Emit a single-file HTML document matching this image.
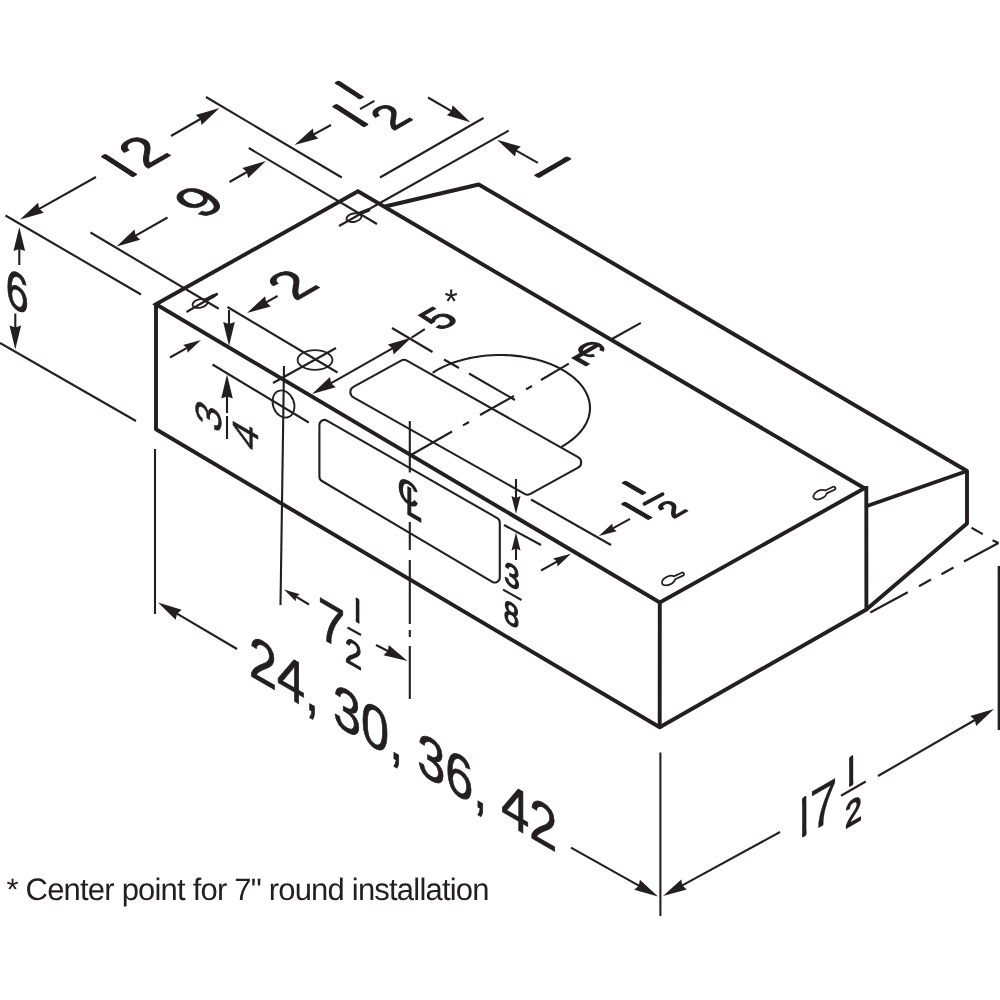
<!DOCTYPE html>
<html><head><meta charset="utf-8"><title>Range hood dimensions</title>
<style>html,body{margin:0;padding:0;background:#fff}svg{display:block;will-change:transform;text-rendering:geometricPrecision}</style></head>
<body><svg width="1000" height="1000" viewBox="0 0 1000 1000" fill="none" stroke="#231f20" stroke-linecap="butt" stroke-linejoin="round">
<rect width="1000" height="1000" fill="#fff" stroke="none"/>
<path d="M156 304.2 L358 191.3 L864.5 488.3 L659.8 602.5 Z" stroke-width="3.9" stroke-linejoin="miter"/>
<path d="M156 304.2 L156 429.3 L659.7 727.2 L659.8 602.5" stroke-width="3.9" />
<path d="M659.7 727.2 L866.4 609.5 L866.3 486" stroke-width="3.9" />
<path d="M385 206.5 L478.75 184.5 L967 471 L967 523.5 L866.4 609.5" stroke-width="3.9" />
<line x1="967" y1="471" x2="867" y2="506" stroke-width="3.9" />
<line x1="999.6" y1="566" x2="999.6" y2="730" stroke-width="3.9" />
<line x1="971.5" y1="527.75" x2="982.75" y2="534.2" stroke-width="2.1" />
<line x1="992.5" y1="540.2" x2="998.5" y2="543" stroke-width="2.1" />
<line x1="998.5" y1="543" x2="964" y2="561.5" stroke-width="2.1" />
<line x1="953.5" y1="567.5" x2="941.5" y2="574.25" stroke-width="2.1" />
<line x1="931" y1="579.5" x2="919" y2="586.25" stroke-width="2.1" />
<line x1="907.75" y1="592.25" x2="870.25" y2="612.5" stroke-width="2.1" />
<line x1="5.5" y1="215.5" x2="141" y2="294.5" stroke-width="2.1" />
<line x1="0" y1="343" x2="136" y2="421" stroke-width="2.1" />
<line x1="206" y1="97" x2="341.75" y2="177.5" stroke-width="2.1" />
<line x1="90.5" y1="232.5" x2="218.75" y2="308.75" stroke-width="2.1" />
<line x1="248.75" y1="148" x2="377" y2="224" stroke-width="2.1" />
<line x1="380" y1="177.5" x2="483.5" y2="118" stroke-width="2.1" />
<line x1="339" y1="226" x2="508.7" y2="130.7" stroke-width="2.1" />
<ellipse cx="200" cy="303.5" rx="7.6" ry="4.2" transform="rotate(-12 200 303.5)" stroke-width="1.9"/>
<line x1="205" y1="300.3" x2="214" y2="295.6" stroke-width="3.6" stroke-linecap="round"/>
<circle cx="216.6" cy="294.1" r="1.4" fill="#231f20" stroke="none"/>
<line x1="186.5" y1="312" x2="217.5" y2="294" stroke-width="2.1" />
<ellipse cx="354" cy="217.6" rx="7.6" ry="4.2" transform="rotate(-12 354 217.6)" stroke-width="1.9"/>
<line x1="360" y1="213.2" x2="368.5" y2="210" stroke-width="3.6" stroke-linecap="round"/>
<line x1="227.5" y1="307" x2="337.5" y2="372.5" stroke-width="2.1" />
<ellipse cx="315" cy="360" rx="17.4" ry="9.9" stroke-width="1.8"/>
<line x1="273" y1="383" x2="336" y2="348" stroke-width="2.1" />
<polygon points="229.0,346.0 223.2,322.0 229.0,324.0 234.8,322.0" fill="#231f20" stroke="none"/>
<line x1="229" y1="310" x2="229.0" y2="325.0" stroke-width="2.1" />
<polygon points="201.0,340.0 187.5,352.8 187.1,347.9 183.1,344.9" fill="#231f20" stroke="none"/>
<line x1="170" y1="357.5" x2="187.9" y2="347.4" stroke-width="2.1" />
<polygon points="247.0,313.0 265.1,296.2 266.2,302.3 270.8,306.4" fill="#231f20" stroke="none"/>
<line x1="277.5" y1="296" x2="265.3" y2="302.8" stroke-width="2.1" />
<line x1="212.5" y1="364.5" x2="308.75" y2="422.5" stroke-width="2.1" />
<ellipse cx="283.5" cy="404" rx="10.5" ry="14" transform="rotate(-20 283.5 404)" stroke-width="1.8"/>
<line x1="284" y1="366" x2="280.5" y2="605" stroke-width="2.1" />
<polygon points="227.0,374.5 232.8,398.5 227.0,396.5 221.2,398.5" fill="#231f20" stroke="none"/>
<line x1="227" y1="413" x2="227.0" y2="395.5" stroke-width="2.1" />
<line x1="227" y1="416" x2="227" y2="439" stroke-width="2.1" />
<line x1="155" y1="449" x2="155" y2="614" stroke-width="2.1" />
<line x1="660.4" y1="752.5" x2="660.4" y2="916" stroke-width="2.1" />
<polygon points="20.0,219.5 38.1,202.7 39.2,208.8 43.8,212.8" fill="#231f20" stroke="none"/>
<line x1="96" y1="177" x2="38.3" y2="209.3" stroke-width="2.1" />
<polygon points="219.5,108.0 201.6,125.0 200.4,119.0 195.8,115.0" fill="#231f20" stroke="none"/>
<line x1="171" y1="136" x2="201.3" y2="118.5" stroke-width="2.1" />
<polygon points="116.5,246.5 134.5,229.6 135.6,235.6 140.2,239.7" fill="#231f20" stroke="none"/>
<line x1="167.5" y1="217.5" x2="134.8" y2="236.1" stroke-width="2.1" />
<polygon points="266.0,161.0 248.1,178.0 246.9,172.0 242.3,167.9" fill="#231f20" stroke="none"/>
<line x1="229.5" y1="182" x2="247.8" y2="171.5" stroke-width="2.1" />
<polygon points="294.5,145.0 312.8,128.4 313.8,134.4 318.3,138.6" fill="#231f20" stroke="none"/>
<line x1="331" y1="125" x2="312.9" y2="134.9" stroke-width="2.1" />
<polygon points="470.4,122.3 446.8,115.2 451.4,111.2 452.6,105.2" fill="#231f20" stroke="none"/>
<line x1="428" y1="97.5" x2="452.3" y2="111.7" stroke-width="2.1" />
<polygon points="497.0,139.8 520.8,146.5 516.2,150.6 515.1,156.6" fill="#231f20" stroke="none"/>
<line x1="537.9" y1="162.8" x2="515.3" y2="150.1" stroke-width="2.1" />
<polygon points="19.3,227.0 25.1,251.0 19.3,249.0 13.5,251.0" fill="#231f20" stroke="none"/>
<line x1="19.3" y1="265" x2="19.3" y2="248.0" stroke-width="2.1" />
<polygon points="15.3,349.5 9.5,325.5 15.3,327.5 21.1,325.5" fill="#231f20" stroke="none"/>
<line x1="15.3" y1="313.5" x2="15.3" y2="328.5" stroke-width="2.1" />
<polygon points="158.0,602.5 181.6,609.7 177.0,613.7 175.7,619.7" fill="#231f20" stroke="none"/>
<line x1="237" y1="649" x2="176.1" y2="613.2" stroke-width="2.1" />
<polygon points="658.0,896.5 634.2,889.8 638.8,885.7 639.9,879.7" fill="#231f20" stroke="none"/>
<line x1="571" y1="847.6" x2="639.7" y2="886.2" stroke-width="2.1" />
<polygon points="284.0,589.5 299.8,594.3 296.0,596.7 295.7,601.2" fill="#231f20" stroke="none"/>
<line x1="309" y1="604.5" x2="295.1" y2="596.2" stroke-width="2.1" />
<polygon points="407.5,661.0 383.5,655.3 387.9,651.0 388.7,645.0" fill="#231f20" stroke="none"/>
<line x1="376" y1="645" x2="388.8" y2="651.5" stroke-width="2.1" />
<polygon points="663.0,896.0 681.3,879.4 682.3,885.4 686.8,889.6" fill="#231f20" stroke="none"/>
<line x1="780" y1="832" x2="681.4" y2="885.9" stroke-width="2.1" />
<polygon points="994.0,709.0 976.1,726.0 974.9,720.0 970.3,716.0" fill="#231f20" stroke="none"/>
<line x1="878" y1="776" x2="975.8" y2="719.5" stroke-width="2.1" />
<line x1="409.8" y1="421" x2="409.8" y2="472.5" stroke-width="2.1" />
<line x1="409.8" y1="522" x2="409.8" y2="550" stroke-width="2.1" />
<line x1="409.8" y1="560" x2="409.8" y2="624" stroke-width="2.1" />
<line x1="409.8" y1="630" x2="409.8" y2="637" stroke-width="2.1" />
<line x1="409.8" y1="646" x2="409.8" y2="699" stroke-width="2.1" />
<path d="M353.4 397.3 A6 6 0 0 1 353.4 386.8 L401.1 360.6 A6 6 0 0 1 406.9 360.6 L578.1 457.2 A6 6 0 0 1 578.1 467.7 L530.4 493.9 A6 6 0 0 1 524.6 493.9 Z" stroke-width="2.1"/>
<path d="M319.4 424.9 A5 5 0 0 1 326.9 420.6 L497.3 518.1 A5 5 0 0 1 499.8 522.4 L499.8 577.5 A5 5 0 0 1 492.3 581.8 L321.9 481.0 A5 5 0 0 1 319.4 476.6 Z" stroke-width="2.1"/>
<path d="M432.7 372.8 L436.0 370.7 L439.5 368.7 L443.2 366.9 L447.0 365.1 L451.0 363.5 L455.2 362.0 L459.5 360.7 L463.9 359.5 L468.3 358.4 L472.9 357.5 L477.6 356.7 L482.3 356.0 L487.1 355.5 L491.9 355.2 L496.8 355.0 L501.6 355.0 L506.5 355.1 L511.3 355.4 L516.1 355.9 L520.9 356.4 L525.5 357.2 L530.2 358.1 L534.7 359.1 L539.1 360.3 L543.4 361.6 L547.6 363.0 L551.7 364.6 L555.6 366.3 L559.3 368.1 L562.9 370.1 L566.2 372.1 L569.4 374.3 L572.4 376.5 L575.2 378.9 L577.7 381.3 L580.1 383.8 L582.2 386.4 L584.0 389.0 L585.6 391.7 L587.0 394.5 L588.1 397.2 L589.0 400.1 L589.6 402.9 L589.9 405.7 L590.0 408.6 L589.8 411.5 L589.4 414.3 L588.7 417.1 L587.7 419.9 L586.5 422.7 L585.0 425.4 L583.3 428.1 L581.3 430.7 L579.1 433.3 L576.7 435.7 L574.0 438.1 L571.2 440.4 L568.1 442.6 L564.8 444.8 L561.4 446.8" stroke-width="2.1" />
<line x1="392" y1="328" x2="432.5" y2="352" stroke-width="2.1" />
<line x1="444" y1="359.5" x2="459" y2="368" stroke-width="2.1" />
<line x1="469" y1="373.5" x2="515" y2="400" stroke-width="2.1" />
<polygon points="411.6,337.6 393.6,354.5 392.5,348.4 387.9,344.4" fill="#231f20" stroke="none"/>
<polygon points="312.0,394.0 330.0,377.1 331.1,383.2 335.7,387.2" fill="#231f20" stroke="none"/>
<line x1="330.3" y1="383.7" x2="393.3" y2="347.9" stroke-width="2.1" />
<line x1="411.6" y1="337.6" x2="424.8" y2="329.2" stroke-width="2.1" />
<line x1="640.8" y1="322.8" x2="612" y2="339" stroke-width="2.1" />
<line x1="568.8" y1="363.6" x2="541" y2="380" stroke-width="2.1" />
<line x1="532" y1="386" x2="526" y2="389.4" stroke-width="2.1" />
<line x1="514" y1="396" x2="480" y2="415" stroke-width="2.1" />
<line x1="469" y1="422" x2="463" y2="425.3" stroke-width="2.1" />
<line x1="452" y1="431.5" x2="411" y2="455" stroke-width="2.1" />
<polygon points="516.0,514.0 511.5,496.0 516.0,498.0 520.5,496.0" fill="#231f20" stroke="none"/>
<line x1="516" y1="479" x2="516.0" y2="499.0" stroke-width="2.1" />
<polygon points="516.0,532.5 520.5,550.5 516.0,548.5 511.5,550.5" fill="#231f20" stroke="none"/>
<line x1="516" y1="560" x2="516.0" y2="547.5" stroke-width="2.1" />
<line x1="504" y1="525" x2="541" y2="545" stroke-width="2.1" />
<line x1="503" y1="589.6" x2="521.5" y2="600" stroke-width="2.1" />
<line x1="531" y1="499.5" x2="611" y2="545" stroke-width="2.1" />
<polygon points="598.8,536.0 612.3,523.4 612.8,528.3 616.7,531.2" fill="#231f20" stroke="none"/>
<line x1="630" y1="518.8" x2="611.9" y2="528.8" stroke-width="2.1" />
<polygon points="571.0,553.8 557.5,566.5 557.0,561.5 553.1,558.6" fill="#231f20" stroke="none"/>
<line x1="541" y1="570.5" x2="557.9" y2="561.1" stroke-width="2.1" />
<g transform="translate(668.7 580.5) rotate(-25)"><path d="M6.4 -1.6 L15 -1.6 A1.6 1.6 0 0 1 15 1.6 L6.4 1.6 A7.1 4.2 0 1 1 6.4 -1.6Z" stroke-width="1.75"/></g>
<g transform="translate(820.2 494.6) rotate(-25)"><path d="M6.4 -1.6 L15 -1.6 A1.6 1.6 0 0 1 15 1.6 L6.4 1.6 A7.1 4.2 0 1 1 6.4 -1.6Z" stroke-width="1.75"/></g>
<g transform="matrix(0.866 -0.5 0.839 0.545 135.2 176)" fill="#231f20" stroke="#231f20" stroke-width="0.9" stroke-linejoin="round" vector-effect="non-scaling-stroke" font-family="Liberation Sans, sans-serif"><g transform="translate(0.00 0.00) scale(1.218 1)"><clipPath id="c1"><rect x="-2.46" y="-39.20" width="4.93" height="40.04" rx="2.46" ry="3.00"/></clipPath><text x="-16.52" y="0" font-size="56" stroke="none" clip-path="url(#c1)">1</text></g><text x="12.60" y="0.00" font-size="56" stroke-width="0.90" vector-effect="non-scaling-stroke" >2</text></g>
<g transform="matrix(0.866 -0.5 0.839 0.545 199.2 201.6)" fill="#231f20" stroke="#231f20" stroke-width="0.9" stroke-linejoin="round" vector-effect="non-scaling-stroke" font-family="Liberation Sans, sans-serif"><text x="-15.57" y="19.04" font-size="56" stroke-width="0.90" vector-effect="non-scaling-stroke" >9</text></g>
<g transform="matrix(0.866 -0.5 0.839 0.545 366.4 126)" fill="#231f20" stroke="#231f20" stroke-width="0.9" stroke-linejoin="round" vector-effect="non-scaling-stroke" font-family="Liberation Sans, sans-serif"><g transform="translate(0.00 0.00) scale(1.218 1)"><clipPath id="c2"><rect x="-2.46" y="-39.20" width="4.93" height="40.04" rx="2.46" ry="3.00"/></clipPath><text x="-16.52" y="0" font-size="56" stroke="none" clip-path="url(#c2)">1</text></g><g transform="translate(23.40 -29.00) scale(1.414 1)"><clipPath id="c3"><rect x="-1.98" y="-31.50" width="3.96" height="32.17" rx="1.98" ry="2.80"/></clipPath><text x="-13.27" y="0" font-size="45" stroke="none" clip-path="url(#c3)">1</text></g><text x="11.20" y="20.00" font-size="45" stroke-width="1.20" vector-effect="non-scaling-stroke" >2</text></g>
<line x1="360" y1="109.2" x2="374.4" y2="100.9" stroke-width="2.1" />
<g transform="matrix(0.866 0.5 -0.866 0.5 536.1 176.8)" fill="#231f20" stroke="#231f20" stroke-width="0.9" stroke-linejoin="round" vector-effect="non-scaling-stroke" font-family="Liberation Sans, sans-serif"><g transform="translate(0.00 0.00) scale(1.218 1)"><clipPath id="c4"><rect x="-2.46" y="-39.20" width="4.93" height="40.04" rx="2.46" ry="3.00"/></clipPath><text x="-16.52" y="0" font-size="56" stroke="none" clip-path="url(#c4)">1</text></g></g>
<g transform="matrix(0.866 -0.5 0.866 0.5 298.8 299.6)" fill="#231f20" stroke="#231f20" stroke-width="0.9" stroke-linejoin="round" vector-effect="non-scaling-stroke" font-family="Liberation Sans, sans-serif"><text x="-3.75" y="0.00" font-size="55" stroke-width="0.90" vector-effect="non-scaling-stroke" >2</text></g>
<g transform="matrix(0.866 -0.5 0.866 0.5 438.3 318.6)" fill="#231f20" stroke="#231f20" stroke-width="0.9" stroke-linejoin="round" vector-effect="non-scaling-stroke" font-family="Liberation Sans, sans-serif"><text x="-11.68" y="14.28" font-size="42" stroke-width="1.30" vector-effect="non-scaling-stroke" >5</text></g>
<text x="444.4" y="313.4" font-size="34" fill="#231f20" stroke="none" font-family="Liberation Sans, sans-serif">*</text>
<g transform="matrix(0.7794 0.45 0 1 17.3 291.5)" fill="#231f20" stroke="#231f20" stroke-width="0.9" stroke-linejoin="round" vector-effect="non-scaling-stroke" font-family="Liberation Sans, sans-serif"><text x="-14.73" y="18.02" font-size="53" stroke-width="0.90" vector-effect="non-scaling-stroke" >6</text></g>
<g transform="matrix(0 -1 0.866 0.5 209 416)" fill="#231f20" stroke="#231f20" stroke-width="0.9" stroke-linejoin="round" vector-effect="non-scaling-stroke" font-family="Liberation Sans, sans-serif"><text x="-11.68" y="14.28" font-size="42" stroke-width="0.60" vector-effect="non-scaling-stroke" >3</text></g>
<g transform="matrix(0 -1 0.866 0.5 246 435)" fill="#231f20" stroke="#231f20" stroke-width="0.9" stroke-linejoin="round" vector-effect="non-scaling-stroke" font-family="Liberation Sans, sans-serif"><text x="-11.68" y="14.28" font-size="42" stroke-width="0.60" vector-effect="non-scaling-stroke" >4</text></g>
<g transform="matrix(0.866 0.5 0 1 512 576)" fill="#231f20" stroke="#231f20" stroke-width="0.9" stroke-linejoin="round" vector-effect="non-scaling-stroke" font-family="Liberation Sans, sans-serif"><text x="-8.90" y="10.88" font-size="32" stroke-width="1.40" vector-effect="non-scaling-stroke" >3</text></g>
<g transform="matrix(0.866 0.5 0 1 511.5 614.3)" fill="#231f20" stroke="#231f20" stroke-width="0.9" stroke-linejoin="round" vector-effect="non-scaling-stroke" font-family="Liberation Sans, sans-serif"><text x="-8.90" y="10.88" font-size="32" stroke-width="1.40" vector-effect="non-scaling-stroke" >8</text></g>
<g transform="matrix(0.866 -0.5 0.866 0.5 650.7 518.9)" fill="#231f20" stroke="#231f20" stroke-width="0.9" stroke-linejoin="round" vector-effect="non-scaling-stroke" font-family="Liberation Sans, sans-serif"><g transform="translate(0.00 0.00) scale(1.354 1)"><clipPath id="c5"><rect x="-2.07" y="-32.90" width="4.14" height="33.60" rx="2.07" ry="2.80"/></clipPath><text x="-13.86" y="0" font-size="47" stroke="none" clip-path="url(#c5)">1</text></g><g transform="translate(21.40 -28.50) scale(1.705 1)"><clipPath id="c6"><rect x="-1.58" y="-25.20" width="3.17" height="25.74" rx="1.58" ry="2.70"/></clipPath><text x="-10.62" y="0" font-size="36" stroke="none" clip-path="url(#c6)">1</text></g><text x="13.10" y="13.30" font-size="32" stroke-width="1.50" vector-effect="non-scaling-stroke" >2</text></g>
<line x1="644.4" y1="503.9" x2="662.6" y2="494.1" stroke-width="3.6" stroke-linecap="round"/>
<g transform="matrix(0.866 0.5 0 1 317.5 636)" fill="#231f20" stroke="#231f20" stroke-width="0.9" stroke-linejoin="round" vector-effect="non-scaling-stroke" font-family="Liberation Sans, sans-serif"><text x="0.00" y="0.00" font-size="58" stroke-width="0.50" vector-effect="non-scaling-stroke" >7</text><g transform="translate(46.30 -36.20) scale(1.452 1)"><clipPath id="c7"><rect x="-1.58" y="-25.20" width="3.17" height="25.74" rx="1.58" ry="2.30"/></clipPath><text x="-10.62" y="0" font-size="36" stroke="none" clip-path="url(#c7)">1</text></g><text x="31.50" y="9.30" font-size="36" stroke-width="1.00" vector-effect="non-scaling-stroke" >2</text></g>
<line x1="347.5" y1="627.5" x2="361" y2="635" stroke-width="2.1" />
<g transform="matrix(0.866 0.5 0 1 249 675)" fill="#231f20" stroke="#231f20" stroke-width="0.9" stroke-linejoin="round" vector-effect="non-scaling-stroke" font-family="Liberation Sans, sans-serif"><text x="0.00" y="0.00" font-size="60" stroke-width="0.80" vector-effect="non-scaling-stroke" textLength="356" lengthAdjust="spacingAndGlyphs">24, 30, 36, 42</text></g>
<g transform="matrix(0.866 -0.5 0 1 796 840.5)" fill="#231f20" stroke="#231f20" stroke-width="0.9" stroke-linejoin="round" vector-effect="non-scaling-stroke" font-family="Liberation Sans, sans-serif"><g transform="translate(9.61 0.75) scale(1.019 1)"><clipPath id="c8"><rect x="-2.55" y="-40.60" width="5.10" height="41.47" rx="2.55" ry="2.60"/></clipPath><text x="-17.11" y="0" font-size="58" stroke="none" clip-path="url(#c8)">1</text></g><text x="15.70" y="0.40" font-size="58" stroke-width="0.40" vector-effect="non-scaling-stroke" >7</text><g transform="translate(63.78 -22.40) scale(1.291 1)"><clipPath id="c9"><rect x="-1.94" y="-30.80" width="3.87" height="31.46" rx="1.94" ry="2.50"/></clipPath><text x="-12.98" y="0" font-size="44" stroke="none" clip-path="url(#c9)">1</text></g><text x="56.50" y="16.50" font-size="35" stroke-width="1.60" vector-effect="non-scaling-stroke" >2</text></g>
<line x1="841" y1="795.75" x2="865.75" y2="781.5" stroke-width="2.1" />
<g transform="matrix(0.866 0.5 -0.866 0.5 573 359)" fill="#231f20" stroke="none" font-weight="bold" font-family="Liberation Sans, sans-serif"><text x="-10.31" y="-9.75" font-size="30">C</text><text transform="scale(0.75 1)" x="-6.30" y="0" font-size="45">L</text></g>
<g transform="matrix(0.866 0.5 0 1 409.3 516)" fill="#231f20" stroke="none" font-weight="bold" font-family="Liberation Sans, sans-serif"><text x="-13.63" y="-11.17" font-size="34">C</text><text transform="scale(0.75 1)" x="-5.88" y="0" font-size="42">L</text></g>
<text x="6.5" y="899.5" font-size="31" letter-spacing="-0.8" fill="#231f20" stroke="none" font-family="Liberation Sans, sans-serif">* Center point for 7" round installation</text>
</svg></body></html>
